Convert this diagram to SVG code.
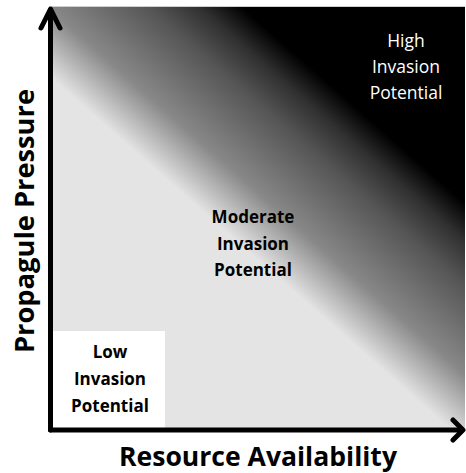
<svg xmlns="http://www.w3.org/2000/svg" width="466" height="473" viewBox="0 0 466 473">
<defs>
<linearGradient id="grad" gradientUnits="userSpaceOnUse" x1="235" y1="240" x2="353.8" y2="105">
<stop offset="0" stop-color="#e4e4e4"/>
<stop offset="0.283" stop-color="#888888"/>
<stop offset="0.655" stop-color="#555555"/>
<stop offset="0.84" stop-color="#303030"/>
<stop offset="1" stop-color="#000000"/>
</linearGradient>
</defs>
<style>
.lbl{font-family:"Open Sans","Liberation Sans",sans-serif;font-size:17px;font-weight:bold;fill:#000;text-anchor:middle}
.hi{font-family:"Open Sans","Liberation Sans",sans-serif;font-size:17.5px;font-weight:normal;fill:#fff;text-anchor:middle}
.axt{font-family:"Open Sans","Liberation Sans",sans-serif;font-size:27px;font-weight:bold;fill:#000;text-anchor:middle}
.ax{fill:none;stroke:#000;stroke-width:5;stroke-linecap:round;stroke-linejoin:round}
</style>
<rect width="466" height="473" fill="#ffffff"/>
<g id="field">
<rect x="50" y="7" width="415" height="421" fill="url(#grad)"/>
<line x1="50" y1="6.5" x2="465" y2="6.5" stroke="#cfcfcf" stroke-width="1"/>
</g>
<g id="low">
<rect x="53" y="331" width="112" height="97" fill="#ffffff"/>
<text class="lbl" x="110" y="358">Low</text>
<text class="lbl" x="110" y="385">Invasion</text>
<text class="lbl" x="110" y="412">Potential</text>
</g>
<g id="moderate">
<text class="lbl" x="253" y="223">Moderate</text>
<text class="lbl" x="253" y="250">Invasion</text>
<text class="lbl" x="253" y="276">Potential</text>
</g>
<g id="high">
<text class="hi" x="406" y="47">High</text>
<text class="hi" x="406" y="73">Invasion</text>
<text class="hi" x="406" y="99">Potential</text>
</g>
<g id="connectors">
<line class="ax" x1="50.5" y1="430" x2="50.5" y2="10"/>
<polyline class="ax" points="41,28 50.5,9 60,28"/>
<line class="ax" x1="50.5" y1="430" x2="461" y2="430"/>
<polyline class="ax" points="453,420 463,430 453,440"/>
</g>
<g id="axis-labels">
<text class="axt" x="258" y="466" textLength="278" lengthAdjust="spacingAndGlyphs">Resource Availability</text>
<text class="axt" transform="translate(34,221) rotate(-90)" textLength="264" lengthAdjust="spacingAndGlyphs">Propagule Pressure</text>
</g>
</svg>
